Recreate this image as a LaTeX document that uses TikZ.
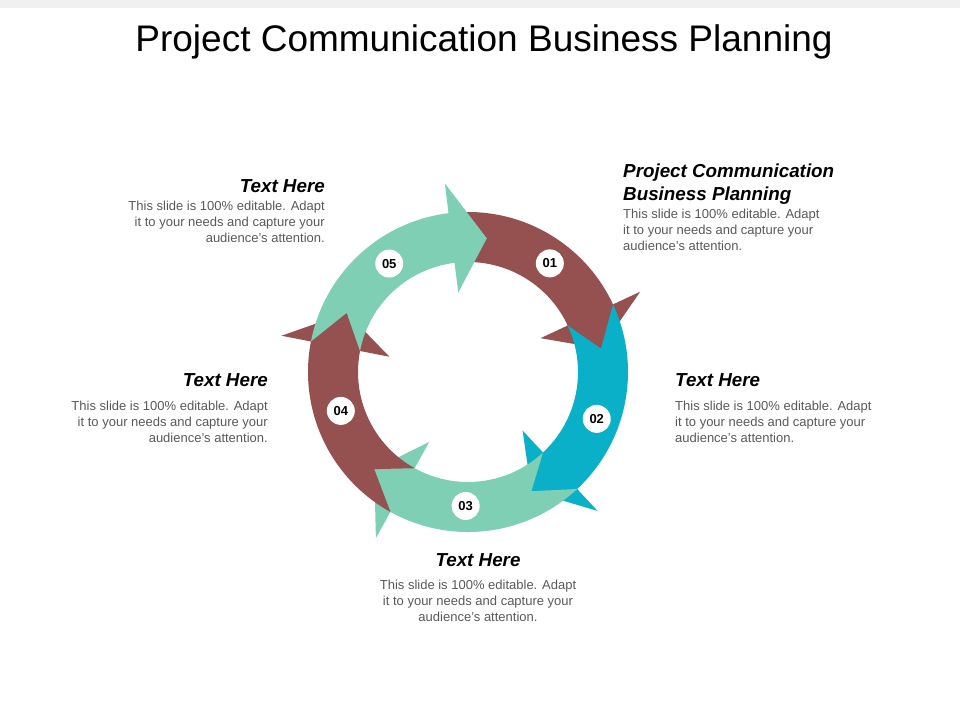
\documentclass[tikz,border=0pt]{standalone}
\usepackage{fontspec}
\setmainfont{Liberation Sans}
\definecolor{brn}{HTML}{955050}
\definecolor{cyn}{HTML}{0AAFC8}
\definecolor{grn}{HTML}{7ECFB3}
\definecolor{bodyg}{HTML}{595959}
\begin{document}
\begin{tikzpicture}[x=1pt,y=1pt,
  body/.style={font=\fontsize{13}{16}\selectfont, text=bodyg, inner sep=0},
  head/.style={font=\fontsize{18.8}{23}\selectfont\bfseries\itshape, inner sep=0},
  num/.style={circle, fill=white, minimum size=28, inner sep=0, font=\fontsize{13}{13}\selectfont\bfseries}]
\useasboundingbox (0,0) rectangle (960,-720);
\fill[gray!12] (0,0) rectangle (960,-8);
\node[font=\fontsize{37}{40}\selectfont] (title) at (484,-42) {Project Communication Business Planning};
\begin{scope}[shift={(468,-372)}]
\foreach \k/\col in {0/brn,1/cyn,2/grn,3/brn,4/grn}{
  \pgfmathsetmacro{\a}{97-72*\k}
  \pgfmathsetmacro{\b}{\a-72}
  \pgfmathsetmacro{\c}{\b-15}
  \pgfmathsetmacro{\d}{\a-15}
  \fill[\col] (\a:160) arc[start angle=\a,end angle=\b,radius=160] -- (\b:190) -- (\c:135) -- (\b:80) -- (\b:110) arc[start angle=\b,end angle=\a,radius=110] -- (\d:135) -- cycle;
}
\node[num] (n1) at (53:136) {01};
\node[num] (n2) at (-20:137) {02};
\node[num] (n3) at (-91:134) {03};
\node[num] (n4) at (-163:133) {04};
\node[num] (n5) at (126:134) {05};
\end{scope}
% top right
\node[head, anchor=north west, align=left] (h1) at (623,-164) {Project Communication\\Business Planning};
\node[body, anchor=north west, align=left] (b1) at (623,-209) {This slide is 100\% editable. Adapt\\it to your needs and capture your\\audience's attention.};
% right
\node[head, anchor=west] (h2) at (675,-380) {Text Here};
\node[body, anchor=north west, align=left] (b2) at (675,-401) {This slide is 100\% editable. Adapt\\it to your needs and capture your\\audience's attention.};
% bottom
\node[head] (h3) at (478,-560) {Text Here};
\node[body, anchor=north, align=center] (b3) at (478,-580) {This slide is 100\% editable. Adapt\\it to your needs and capture your\\audience's attention.};
% left
\node[head, anchor=east] (h4) at (268,-380) {Text Here};
\node[body, anchor=north east, align=right] (b4) at (268,-401) {This slide is 100\% editable. Adapt\\it to your needs and capture your\\audience's attention.};
% top left
\node[head, anchor=east] (h5) at (325,-186) {Text Here};
\node[body, anchor=north east, align=right] (b5) at (325,-201) {This slide is 100\% editable. Adapt\\it to your needs and capture your\\audience's attention.};
\end{tikzpicture}
\end{document}
